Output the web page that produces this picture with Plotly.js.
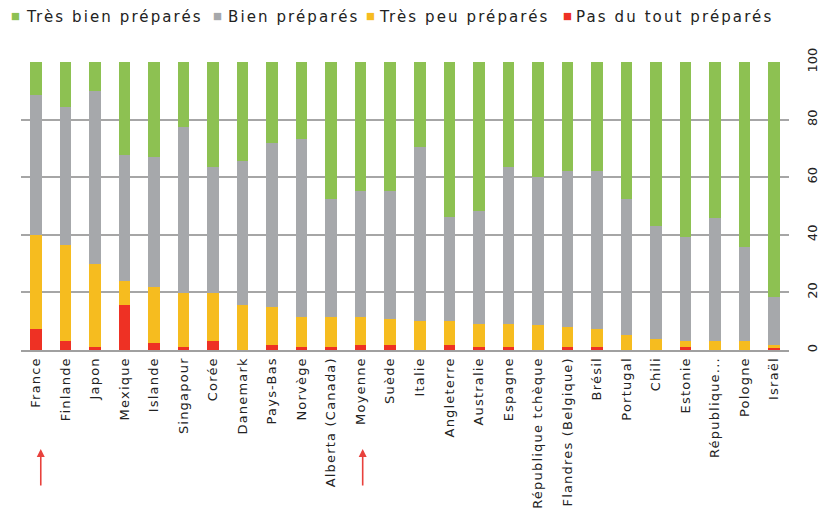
<!DOCTYPE html>
<html>
<head>
<meta charset="utf-8">
<script src="https://cdn.plot.ly/plotly-3.0.1.min.js"></script>
<style>
html,body{margin:0;padding:0;background:#fff}
#chart{width:825px;height:522px}
.xtick text{letter-spacing:1.2px}
text.annotation-text{letter-spacing:2.1px}
</style>
</head>
<body>
<div id="chart"></div>
<script>
const categories = ["France","Finlande","Japon","Mexique","Islande","Singapour","Corée","Danemark","Pays-Bas","Norvège","Alberta (Canada)","Moyenne","Suède","Italie","Angleterre","Australie","Espagne","République tchèque","Flandres (Belgique)","Brésil","Portugal","Chili","Estonie","République...","Pologne","Israël"];
const pasDuTout = [7.2,3.1,1.0,15.6,2.4,1.0,3.1,0,1.7,1.0,1.0,1.7,1.7,0,1.7,1.0,1.0,0,1.0,1.0,0,0,1.0,0,0,0.8];
const tresPeu   = [32.7,33.3,29.0,8.3,19.5,18.7,16.6,15.5,13.1,10.3,10.3,9.6,8.9,9.9,8.2,8.2,8.2,8.6,6.9,6.2,5.1,3.7,2.0,3.0,3.0,0.8];
const bien      = [48.5,48.0,59.9,43.7,45.0,57.6,43.8,50.1,57.0,61.9,41.1,43.9,44.6,60.5,36.2,38.9,54.3,51.4,54.2,54.9,47.3,39.5,36.1,43.0,32.6,16.7];
const tresBien  = [11.6,15.6,10.1,32.4,33.1,22.7,36.5,34.4,28.2,26.8,47.6,44.8,44.8,29.6,53.9,51.9,36.5,40.0,37.9,37.9,47.6,56.8,60.9,54.0,64.4,81.7];
const seriesNames = ["Pas du tout préparés","Très peu préparés","Bien préparés","Très bien préparés"];
const yTicks = [0,20,40,60,80,100];
const arrowTargets = ["France","Moyenne"];

const colors = ["#EE3124","#F6BC1F","#A6A8AB","#8DC152"];
const values = [pasDuTout, tresPeu, bien, tresBien];
const traces = values.map((v,i)=>({
  type:'bar', x:categories, y:v, name:seriesNames[i],
  marker:{color:colors[i], line:{width:0}}, hoverinfo:'skip'
}));

// geometry helpers (pixel -> paper)
const W = 825, H = 522, mL = 21, mR = 36, mT = 62, mB = 172;
const pw = W - mL - mR, ph = H - mT - mB;
const px2x = p => (p - mL) / pw;
const py2y = p => (H - mB - p) / ph;

const annotations = arrowTargets.map((c,i)=>({
  xref:'x', yref:'paper', x:c, y:py2y(449), text:'', showarrow:true,
  ax:0, ay:38, arrowhead:2, arrowsize:1, arrowwidth:1.6, arrowcolor:'#E8413C',
  xshift: i===0 ? 5 : 2
}));

// legend drawn as annotations (order: Très bien, Bien, Très peu, Pas du tout)
const legOrder = [3,2,1,0];
const legSquareX = [16, 218, 371, 568];
const legTextX = [24, 226, 377, 574];
legOrder.forEach((si,k)=>{
  annotations.push({xref:'paper', yref:'paper', x:px2x(legSquareX[k]), y:py2y(16),
    xanchor:'center', yanchor:'middle', showarrow:false, text:'■',
    font:{size:9.5, color:colors[si], family:'DejaVu Sans'}});
  annotations.push({xref:'paper', yref:'paper', x:px2x(legTextX[k]), y:py2y(17),
    xanchor:'left', yanchor:'middle', showarrow:false,
    text:seriesNames[si],
    font:{size:15, color:'#222222', family:'DejaVu Sans'}});
});

const layout = {
  width:W, height:H,
  margin:{l:mL, r:mR, t:mT, b:mB, pad:0},
  paper_bgcolor:'#ffffff', plot_bgcolor:'#ffffff',
  barmode:'stack', bargap:0.61,
  font:{family:'DejaVu Sans, Verdana, sans-serif', color:'#222222', size:13},
  showlegend:false,
  xaxis:{type:'category', tickangle:-90, showgrid:false, zeroline:false,
         showline:true, linecolor:'#A0A0A0', linewidth:2, ticks:'',
         tickfont:{size:13, color:'#222222'}, automargin:false},
  yaxis:{range:[0,100], side:'right', tickvals:yTicks, ticktext:yTicks.map(String),
         tickangle:-90, showgrid:true, gridcolor:'#A6A6A6', gridwidth:2,
         zeroline:false, showline:false, ticks:'', ticklabelstandoff:14,
         tickfont:{size:13, color:'#222222'}, automargin:false},
  annotations:annotations
};
Plotly.newPlot('chart', traces, layout, {displayModeBar:false, staticPlot:true});
</script>
</body>
</html>
